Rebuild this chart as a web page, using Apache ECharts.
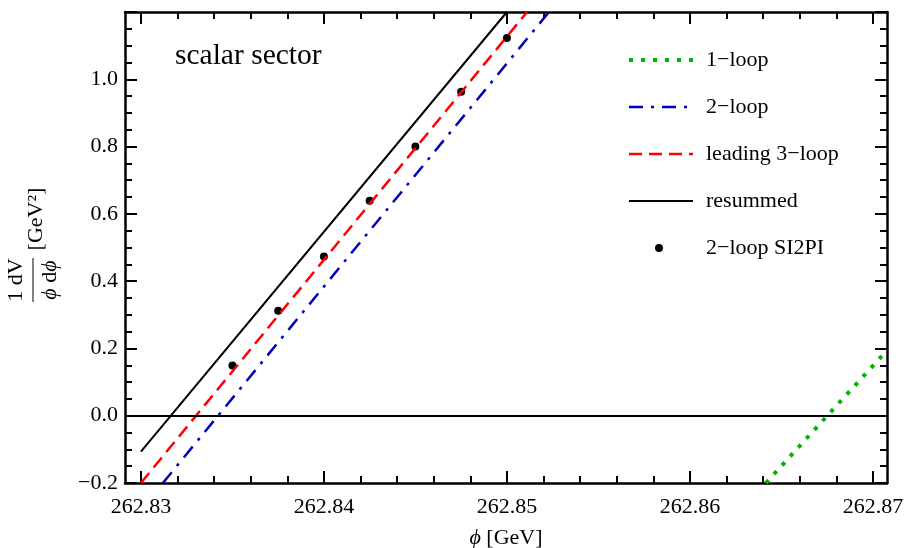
<!DOCTYPE html>
<html>
<head>
<meta charset="utf-8">
<script src="https://cdn.jsdelivr.net/npm/echarts@6/dist/echarts.min.js"></script>
<style>
  html, body { margin: 0; padding: 0; background: #fff; }
  #main { width: 904px; height: 548px; }
</style>
</head>
<body>
<div id="main"></div>
<script>
// curves, [phi, value]
var oneLoop = [[262.86415, -0.2], [262.8708, 0.196]];
var twoLoop = [[262.8312, -0.2], [262.8523, 1.2]];
var leading3Loop = [[262.83, -0.2], [262.8511, 1.2]];
var resummed = [[262.83, -0.107], [262.85, 1.2]];
// 2-loop SI2PI points
var si2piX = [262.835, 262.8375, 262.84, 262.8425, 262.845, 262.8475, 262.85];
var si2piY = [0.149, 0.312, 0.473, 0.639, 0.8, 0.963, 1.123];

var xTicks = [262.83, 262.84, 262.85, 262.86, 262.87];
var xMin = 262.82913, xMax = 262.87077;
var yMin = -0.2, yMax = 1.2, yStep = 0.2;

var serif = 'Liberation Serif';

var xMinor = [];
for (var i = 0; i < xTicks.length - 1; i++) {
    for (var k = 1; k < 5; k++) xMinor.push(+(xTicks[i] + k * 0.002).toFixed(4));
}

var myChart = echarts.init(document.getElementById('main'));

function yFmt(v) {
    return v < 0 ? '\u2212' + (-v).toFixed(1) : v.toFixed(1);
}

function xAxisDef(pos, minor) {
    return {
        type: 'value', position: pos, min: xMin, max: xMax,
        name: (pos === 'bottom' && !minor) ? '{i|\u03d5} [GeV]' : '',
        nameLocation: 'middle', nameGap: 44,
        nameTextStyle: { fontFamily: serif, fontSize: 22, color: '#000', rich: { i: { fontStyle: 'italic', fontFamily: serif, fontSize: 22 } } },
        axisLine: { show: !minor, onZero: false, lineStyle: { color: '#000', width: 2.5 } },
        axisTick: { show: true, inside: true, length: minor ? 7 : 12, customValues: minor ? xMinor : xTicks,
                    lineStyle: { color: '#000', width: 2 } },
        axisLabel: { show: pos === 'bottom' && !minor, customValues: xTicks, margin: 13,
                     fontFamily: serif, fontSize: 22, color: '#000',
                     formatter: function (v) { return v.toFixed(2); } },
        splitLine: { show: false }
    };
}

function yAxisDef(pos) {
    return {
        type: 'value', position: pos, min: yMin, max: yMax, interval: yStep,
        axisLine: { show: true, onZero: false, lineStyle: { color: '#000', width: 2.5 } },
        axisTick: { show: true, inside: true, length: 12, lineStyle: { color: '#000', width: 2 } },
        minorTick: { show: true, splitNumber: 4, length: 7, lineStyle: { color: '#000', width: 2 } },
        axisLabel: { show: pos === 'left', showMaxLabel: false, margin: 7,
                     fontFamily: serif, fontSize: 22, color: '#000', formatter: yFmt },
        splitLine: { show: false }
    };
}

var option = {
    animation: false,
    backgroundColor: '#fff',
    textStyle: { fontFamily: serif },
    grid: { left: 125, right: 17, top: 12, bottom: 65, outerBoundsMode: 'none', containLabel: false },
    title: {
        text: 'scalar sector', left: 175, top: 41, padding: 0,
        textStyle: { fontFamily: serif, fontSize: 29.5, fontWeight: 'normal', color: '#000' }
    },
    legend: [{
        orient: 'vertical', left: 622, top: 44, itemWidth: 64, itemHeight: 14, itemGap: 25,
        data: ['1\u2212loop', '2\u2212loop', 'leading 3\u2212loop', 'resummed'],
        lineStyle: { width: 'inherit' },
        itemStyle: { opacity: 0 },
        textStyle: { fontFamily: serif, fontSize: 22, lineHeight: 22, color: '#000', padding: [0, 0, 0, 8] }
    }, {
        orient: 'vertical', left: 650, top: 232, itemWidth: 8, itemHeight: 8,
        data: [{ name: '2\u2212loop SI2PI', icon: 'circle' }],
        textStyle: { fontFamily: serif, fontSize: 22, lineHeight: 22, color: '#000', padding: [0, 0, 0, 38] }
    }],
    xAxis: [xAxisDef('bottom', false), xAxisDef('bottom', true), xAxisDef('top', false), xAxisDef('top', true)],
    yAxis: [yAxisDef('left'), yAxisDef('right')],
    graphic: [{
        type: 'group', x: 33, y: 245, rotation: Math.PI / 2,
        children: [
            { type: 'text', x: -35, y: -17, style: { text: '1 dV', font: '22px ' + serif, fill: '#000', align: 'center', verticalAlign: 'middle' } },
            { type: 'line', shape: { x1: -57, y1: 0, x2: -13, y2: 0 }, style: { stroke: '#000', lineWidth: 1 } },
            { type: 'text', x: -35, y: 17, style: { text: '{i|\u03d5} d{i|\u03d5}', font: '22px ' + serif, fill: '#000', align: 'center', verticalAlign: 'middle',
                rich: { i: { fontStyle: 'italic', fontSize: 22, fontFamily: serif } } } },
            { type: 'text', x: 26, y: 3, style: { text: '[GeV\u00b2]', font: '22px ' + serif, fill: '#000', align: 'center', verticalAlign: 'middle' } }
        ]
    }],
    series: [
        {
            name: '1\u2212loop', type: 'line', data: oneLoop, symbol: 'none', clip: true,
            lineStyle: { color: '#00b400', width: 4, type: [4, 8] }, itemStyle: { color: '#00b400' }
        },
        {
            name: '2\u2212loop', type: 'line', data: twoLoop, symbol: 'none', clip: true,
            lineStyle: { color: '#0000b4', width: 2.5, type: [14, 8, 3, 8] }, itemStyle: { color: '#0000b4' }
        },
        {
            name: 'leading 3\u2212loop', type: 'line', data: leading3Loop, symbol: 'none', clip: true,
            lineStyle: { color: '#ff0000', width: 2.5, type: [13, 7] }, itemStyle: { color: '#ff0000' }
        },
        {
            name: 'resummed', type: 'line', data: resummed, symbol: 'none', clip: true,
            lineStyle: { color: '#000', width: 2, type: 'solid' }, itemStyle: { color: '#000' }
        },
        {
            name: '2\u2212loop SI2PI', type: 'scatter', symbol: 'circle', symbolSize: 8,
            data: si2piX.map(function (x, i) { return [x, si2piY[i]]; }),
            itemStyle: { color: '#000', opacity: 1 },
            markLine: {
                silent: true, symbol: 'none', label: { show: false },
                lineStyle: { color: '#000', width: 2, type: 'solid' },
                data: [{ yAxis: 0 }]
            }
        }
    ]
};
myChart.setOption(option);
</script>
</body>
</html>
